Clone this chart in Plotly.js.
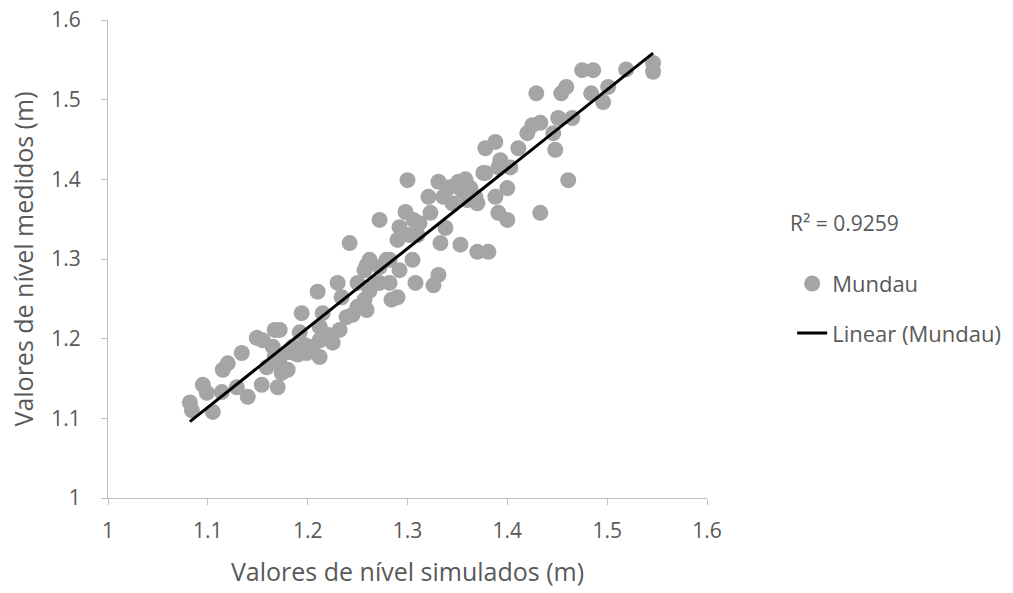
<!DOCTYPE html>
<html>
<head>
<meta charset="utf-8">
<script src="https://cdn.plot.ly/plotly-3.0.1.min.js"></script>
<style>html,body{margin:0;padding:0;background:#fff;}#chart{width:1013px;height:593px;}</style>
</head>
<body>
<div id="chart"></div>
<script>
const simulados = [
  1.082, 1.084, 1.095, 1.099, 1.105, 1.114, 1.115, 1.120, 1.129, 1.134,
  1.140, 1.149, 1.155, 1.154, 1.159, 1.167, 1.167, 1.170, 1.174, 1.180,
  1.187, 1.180, 1.172, 1.199, 1.212, 1.172, 1.192, 1.212, 1.232, 1.212,
  1.225, 1.194, 1.215, 1.239, 1.259, 1.210, 1.230, 1.250, 1.272, 1.234,
  1.257, 1.284, 1.259, 1.272, 1.282, 1.242, 1.272, 1.262, 1.279, 1.305,
  1.257, 1.292, 1.331, 1.308, 1.326, 1.290, 1.290, 1.310, 1.333, 1.353,
  1.370, 1.381, 1.292, 1.306, 1.323, 1.338, 1.298, 1.300, 1.331, 1.351,
  1.376, 1.321, 1.336, 1.360, 1.368, 1.363, 1.370, 1.388, 1.400, 1.391,
  1.400, 1.433, 1.461, 1.378, 1.391, 1.393, 1.403, 1.378, 1.388, 1.411,
  1.448, 1.420, 1.425, 1.433, 1.451, 1.465, 1.429, 1.454, 1.459, 1.484,
  1.496, 1.501, 1.475, 1.486, 1.519, 1.546, 1.546, 1.446, 1.197,
  1.185, 1.190, 1.205, 1.220, 1.165, 1.245, 1.250, 1.262, 1.267, 1.282,
  1.302, 1.312, 1.345, 1.355, 1.342, 1.358
];
const medidos = [
  1.120, 1.110, 1.142, 1.132, 1.108, 1.133, 1.161, 1.169, 1.139, 1.182,
  1.127, 1.201, 1.198, 1.142, 1.164, 1.211, 1.177, 1.139, 1.157, 1.161,
  1.182, 1.183, 1.169, 1.182, 1.177, 1.211, 1.208, 1.215, 1.211, 1.198,
  1.195, 1.232, 1.232, 1.227, 1.236, 1.259, 1.270, 1.270, 1.270, 1.252,
  1.249, 1.249, 1.292, 1.290, 1.299, 1.320, 1.349, 1.299, 1.299, 1.299,
  1.286, 1.286, 1.280, 1.270, 1.267, 1.252, 1.324, 1.330, 1.320, 1.318,
  1.309, 1.309, 1.340, 1.349, 1.358, 1.339, 1.359, 1.399, 1.397, 1.397,
  1.408, 1.378, 1.378, 1.374, 1.378, 1.389, 1.370, 1.378, 1.389, 1.358,
  1.349, 1.358, 1.399, 1.408, 1.415, 1.424, 1.415, 1.439, 1.447, 1.439,
  1.437, 1.458, 1.468, 1.471, 1.477, 1.477, 1.508, 1.508, 1.516, 1.508,
  1.497, 1.516, 1.537, 1.537, 1.538, 1.546, 1.535, 1.458, 1.192,
  1.190, 1.180, 1.190, 1.205, 1.190, 1.230, 1.240, 1.260, 1.270, 1.270,
  1.330, 1.345, 1.370, 1.385, 1.390, 1.400
];
const xTicks = [1, 1.1, 1.2, 1.3, 1.4, 1.5, 1.6];
const yTicks = [1, 1.1, 1.2, 1.3, 1.4, 1.5, 1.6];
const seriesName = "Mundau";
const trendName = "Linear (Mundau)";
const r2Label = "R² = 0.9259";
const xTitle = "Valores de nível simulados (m)";
const yTitle = "Valores de nível medidos (m)";

// least-squares trendline from the data
const n = simulados.length;
let sx = 0, sy = 0, sxx = 0, sxy = 0;
for (let i = 0; i < n; i++) { sx += simulados[i]; sy += medidos[i]; sxx += simulados[i]*simulados[i]; sxy += simulados[i]*medidos[i]; }
const slope = (n*sxy - sx*sy) / (n*sxx - sx*sx);
const intercept = (sy - slope*sx) / n;
const xMin = Math.min(...simulados), xMax = Math.max(...simulados);
const trendX = [xMin, xMax];
const trendY = trendX.map(v => slope*v + intercept);

const font = "'Open Sans', sans-serif";
const grey = "#595959";

const data = [
  {x: simulados, y: medidos, type: "scatter", mode: "markers", name: seriesName,
   legendgroup: "a",
   marker: {color: "#a5a5a5", size: 16, line: {width: 0}}},
  {x: trendX, y: trendY, type: "scatter", mode: "lines", name: trendName,
   legendgroup: "b",
   line: {color: "#000000", width: 3}}
];

const axisCommon = {
  showgrid: false, zeroline: false, showline: true, linecolor: "#bfbfbf", linewidth: 1,
  ticks: "outside", ticklen: 6, tickcolor: "#bfbfbf", tickwidth: 1,
  tickfont: {family: font, size: 21, color: grey}
};

const layout = {
  width: 1013, height: 593,
  margin: {l: 108, r: 306, t: 20, b: 95},
  paper_bgcolor: "#ffffff", plot_bgcolor: "#ffffff",
  xaxis: Object.assign({}, axisCommon, {range: [1, 1.6], tickvals: xTicks, ticktext: xTicks.map(String),
    ticklabelstandoff: 8, automargin: false,
    title: {text: xTitle, font: {family: font, size: 25, color: grey}, standoff: 20}}),
  yaxis: Object.assign({}, axisCommon, {range: [1, 1.6], tickvals: yTicks, ticktext: yTicks.map(String),
    ticklabelstandoff: 16, automargin: false,
    title: {text: yTitle, font: {family: font, size: 25, color: grey}, standoff: 10}}),
  showlegend: true,
  legend: {xref: "container", yref: "container", x: 0.782, y: 0.557, xanchor: "left", yanchor: "top",
    traceorder: "grouped", tracegroupgap: 18, font: {family: font, size: 22, color: grey},
    bgcolor: "rgba(0,0,0,0)"},
  annotations: [{text: r2Label, xref: "paper", yref: "paper", x: 1.135, y: 0.575,
    xanchor: "left", yanchor: "middle", showarrow: false, font: {family: font, size: 21, color: grey}}]
};

Plotly.newPlot("chart", data, layout, {displayModeBar: false, staticPlot: true});
</script>
</body>
</html>
